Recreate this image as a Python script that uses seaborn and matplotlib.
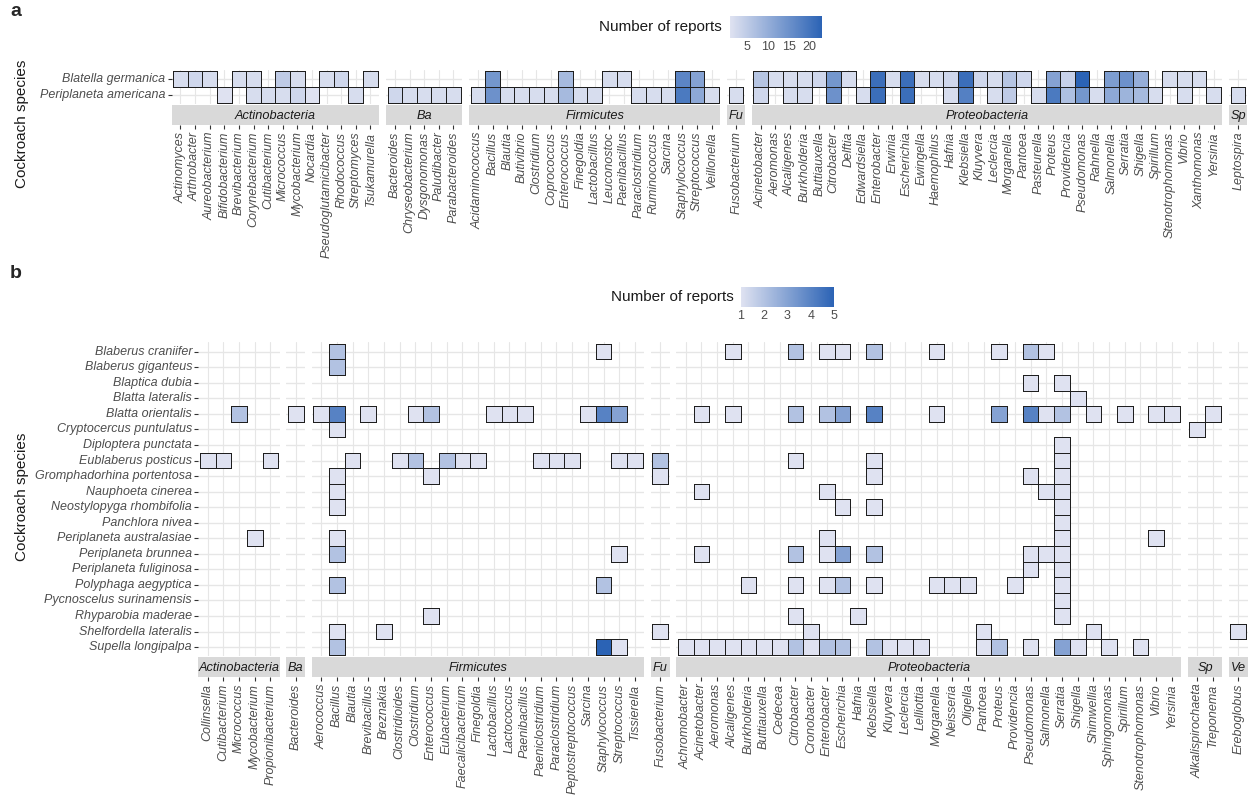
import numpy as np
import pandas as pd
import matplotlib
matplotlib.use("Agg")
import matplotlib.pyplot as plt
from matplotlib.colors import LinearSegmentedColormap, Normalize
from matplotlib.cm import ScalarMappable
import seaborn as sns

# ---------------- panel a : genus lists per phylum ----------------
a_species = ["Blatella germanica", "Periplaneta americana"]
a_actinobacteria = ["Actinomyces", "Arthrobacter", "Aureobacterium", "Bifidobacterium", "Brevibacterium",
                    "Corynebacterium", "Cutibacterium", "Micrococcus", "Mycobacterium", "Nocardia",
                    "Pseudoglutamicibacter", "Rhodococcus", "Streptomyces", "Tsukamurella"]
a_bacteroidetes = ["Bacteroides", "Chryseobacterium", "Dysgonomonas", "Paludibacter", "Parabacteroides"]
a_firmicutes = ["Acidaminococcus", "Bacillus", "Blautia", "Butivibrio", "Clostridium", "Coprococcus",
                "Enterococcus", "Finegoldia", "Lactobacillus", "Leuconostoc", "Paenibacillus",
                "Paraclostridium", "Ruminococcus", "Sarcina", "Staphylococcus", "Streptococcus", "Veillonella"]
a_fusobacteria = ["Fusobacterium"]
a_proteobacteria = ["Acinetobacter", "Aeromonas", "Alcaligenes", "Burkholderia", "Buttiauxella", "Citrobacter",
                    "Delftia", "Edwardsiella", "Enterobacter", "Erwinia", "Escherichia", "Ewingella",
                    "Haemophilus", "Hafnia", "Klebsiella", "Kluyvera", "Leclercia", "Morganella", "Pantoea",
                    "Pasteurella", "Proteus", "Providencia", "Pseudomonas", "Rahnella", "Salmonella",
                    "Serratia", "Shigella", "Spirillum", "Stenotrophomonas", "Vibrio", "Xanthomonas", "Yersinia"]
a_spirochaetes = ["Leptospira"]

# number of reports (panel a)
a_germanica = {"Actinomyces": 2, "Arthrobacter": 3, "Aureobacterium": 2, "Brevibacterium": 2,
               "Corynebacterium": 2, "Micrococcus": 5, "Mycobacterium": 2, "Pseudoglutamicibacter": 2,
               "Rhodococcus": 3, "Tsukamurella": 2,
               "Bacillus": 14, "Enterococcus": 8, "Leuconostoc": 2, "Paenibacillus": 2,
               "Staphylococcus": 17, "Streptococcus": 12,
               "Acinetobacter": 6, "Aeromonas": 2, "Alcaligenes": 2, "Burkholderia": 2, "Buttiauxella": 3,
               "Citrobacter": 14, "Delftia": 2, "Enterobacter": 21, "Erwinia": 2, "Escherichia": 21,
               "Ewingella": 2, "Haemophilus": 2, "Hafnia": 3, "Klebsiella": 21, "Kluyvera": 3,
               "Leclercia": 2, "Morganella": 6, "Pantoea": 3, "Proteus": 12, "Providencia": 4,
               "Pseudomonas": 23, "Salmonella": 13, "Serratia": 15, "Shigella": 10,
               "Stenotrophomonas": 2, "Vibrio": 2, "Xanthomonas": 2}
a_americana = {"Bifidobacterium": 1, "Corynebacterium": 2, "Cutibacterium": 2, "Micrococcus": 2,
               "Mycobacterium": 3, "Nocardia": 1, "Streptomyces": 2,
               "Bacteroides": 3, "Chryseobacterium": 2, "Dysgonomonas": 2, "Paludibacter": 2,
               "Parabacteroides": 2,
               "Acidaminococcus": 2, "Bacillus": 15, "Blautia": 2, "Butivibrio": 2, "Clostridium": 2,
               "Coprococcus": 2, "Enterococcus": 8, "Finegoldia": 2, "Lactobacillus": 2,
               "Paraclostridium": 2, "Ruminococcus": 2, "Sarcina": 2, "Staphylococcus": 19,
               "Streptococcus": 11, "Veillonella": 2,
               "Fusobacterium": 2,
               "Acinetobacter": 3, "Alcaligenes": 2, "Burkholderia": 2, "Citrobacter": 15,
               "Edwardsiella": 2, "Enterobacter": 21, "Escherichia": 21, "Hafnia": 2, "Klebsiella": 18,
               "Leclercia": 2, "Morganella": 5, "Pasteurella": 2, "Proteus": 19, "Providencia": 7,
               "Pseudomonas": 14, "Rahnella": 2, "Salmonella": 11, "Serratia": 9, "Shigella": 8,
               "Spirillum": 2, "Vibrio": 2, "Yersinia": 2,
               "Leptospira": 2}

# ---------------- panel b ----------------
b_species = ["Blaberus craniifer", "Blaberus giganteus", "Blaptica dubia", "Blatta lateralis",
             "Blatta orientalis", "Cryptocercus puntulatus", "Diploptera punctata", "Eublaberus posticus",
             "Gromphadorhina portentosa", "Nauphoeta cinerea", "Neostylopyga rhombifolia", "Panchlora nivea",
             "Periplaneta australasiae", "Periplaneta brunnea", "Periplaneta fuliginosa",
             "Polyphaga aegyptica", "Pycnoscelus surinamensis", "Rhyparobia maderae",
             "Shelfordella lateralis", "Supella longipalpa"]
b_actinobacteria = ["Collinsella", "Cutibacterium", "Micrococcus", "Mycobacterium", "Propionibacterium"]
b_bacteroidetes = ["Bacteroides"]
b_firmicutes = ["Aerococcus", "Bacillus", "Blautia", "Brevibacillus", "Breznakia", "Clostridioides",
                "Clostridium", "Enterococcus", "Eubacterium", "Faecalicibacterium", "Finegoldia",
                "Lactobacillus", "Lactococcus", "Paenibacillus", "Paeniclostridium", "Paraclostridium",
                "Peptostreptococcus", "Sarcina", "Staphylococcus", "Streptococcus", "Tissierella"]
b_fusobacteria = ["Fusobacterium"]
b_proteobacteria = ["Achromobacter", "Acinetobacter", "Aeromonas", "Alcaligenes", "Burkholderia",
                    "Buttiauxella", "Cedecea", "Citrobacter", "Cronobacter", "Enterobacter", "Escherichia",
                    "Hafnia", "Klebsiella", "Kluyvera", "Leclercia", "Lelliottia", "Morganella", "Neisseria",
                    "Oligella", "Pantoea", "Proteus", "Providencia", "Pseudomonas", "Salmonella", "Serratia",
                    "Shigella", "Shimwellia", "Sphingomonas", "Spirillum", "Stenotrophomonas", "Vibrio",
                    "Yersinia"]
b_spirochaetes = ["Alkalispirochaeta", "Treponema"]
b_verrucomicrobia = ["Ereboglobus"]

# number of reports per cockroach species (panel b)
b_craniifer = {"Bacillus": 2, "Staphylococcus": 1, "Alcaligenes": 1, "Citrobacter": 2, "Enterobacter": 1,
               "Escherichia": 1, "Klebsiella": 2, "Morganella": 1, "Proteus": 1, "Pseudomonas": 2,
               "Salmonella": 1}
b_giganteus = {"Bacillus": 2}
b_dubia = {"Pseudomonas": 1, "Serratia": 1}
b_lateralis = {"Shigella": 1}
b_orientalis = {"Micrococcus": 2, "Bacteroides": 1, "Aerococcus": 1, "Bacillus": 4, "Brevibacillus": 1,
                "Clostridium": 1, "Enterococcus": 2, "Lactobacillus": 1, "Lactococcus": 1, "Paenibacillus": 1,
                "Sarcina": 1, "Staphylococcus": 4, "Streptococcus": 3, "Acinetobacter": 1, "Alcaligenes": 1,
                "Citrobacter": 2, "Enterobacter": 2, "Escherichia": 3, "Klebsiella": 4, "Morganella": 1,
                "Proteus": 3, "Pseudomonas": 4, "Salmonella": 1, "Serratia": 2, "Shimwellia": 1,
                "Spirillum": 1, "Vibrio": 1, "Yersinia": 1, "Treponema": 1}
b_cryptocercus = {"Bacillus": 1, "Alkalispirochaeta": 1}
b_diploptera = {"Serratia": 1}
b_eublaberus = {"Collinsella": 1, "Cutibacterium": 1, "Propionibacterium": 1, "Blautia": 1,
                "Clostridioides": 1, "Clostridium": 2, "Eubacterium": 2, "Faecalicibacterium": 1,
                "Finegoldia": 1, "Paeniclostridium": 1, "Paraclostridium": 1, "Peptostreptococcus": 1,
                "Streptococcus": 1, "Tissierella": 1, "Fusobacterium": 2, "Citrobacter": 1, "Klebsiella": 1,
                "Serratia": 1}
b_gromphadorhina = {"Bacillus": 1, "Enterococcus": 1, "Fusobacterium": 1, "Klebsiella": 1,
                    "Pseudomonas": 1, "Serratia": 1}
b_nauphoeta = {"Bacillus": 1, "Acinetobacter": 1, "Enterobacter": 1, "Salmonella": 1, "Serratia": 1}
b_neostylopyga = {"Bacillus": 1, "Escherichia": 1, "Klebsiella": 1, "Serratia": 1}
b_panchlora = {"Serratia": 1}
b_australasiae = {"Mycobacterium": 1, "Bacillus": 1, "Enterobacter": 1, "Serratia": 1, "Vibrio": 1}
b_brunnea = {"Bacillus": 2, "Streptococcus": 1, "Acinetobacter": 1, "Citrobacter": 2, "Enterobacter": 1,
             "Escherichia": 3, "Klebsiella": 2, "Pseudomonas": 1, "Salmonella": 1, "Serratia": 1}
b_fuliginosa = {"Pseudomonas": 1, "Serratia": 1}
b_polyphaga = {"Bacillus": 2, "Staphylococcus": 2, "Burkholderia": 1, "Citrobacter": 1, "Enterobacter": 1,
               "Escherichia": 2, "Klebsiella": 1, "Morganella": 1, "Neisseria": 1, "Oligella": 1,
               "Providencia": 1, "Serratia": 1}
b_pycnoscelus = {"Serratia": 1}
b_rhyparobia = {"Enterococcus": 1, "Citrobacter": 1, "Hafnia": 1, "Serratia": 1}
b_shelfordella = {"Bacillus": 1, "Breznakia": 1, "Fusobacterium": 1, "Cronobacter": 1, "Pantoea": 1,
                  "Shimwellia": 1, "Ereboglobus": 1}
b_supella = {"Bacillus": 2, "Staphylococcus": 5, "Streptococcus": 1, "Achromobacter": 1, "Acinetobacter": 1,
             "Aeromonas": 1, "Alcaligenes": 1, "Burkholderia": 1, "Buttiauxella": 1, "Cedecea": 1,
             "Citrobacter": 2, "Cronobacter": 1, "Enterobacter": 2, "Escherichia": 2, "Klebsiella": 2,
             "Kluyvera": 1, "Leclercia": 1, "Lelliottia": 1, "Pantoea": 1, "Proteus": 2, "Pseudomonas": 1,
             "Serratia": 3, "Shigella": 1, "Sphingomonas": 1, "Stenotrophomonas": 1}

a_rows = [a_germanica, a_americana]
b_rows = [b_craniifer, b_giganteus, b_dubia, b_lateralis, b_orientalis, b_cryptocercus, b_diploptera,
          b_eublaberus, b_gromphadorhina, b_nauphoeta, b_neostylopyga, b_panchlora, b_australasiae,
          b_brunnea, b_fuliginosa, b_polyphaga, b_pycnoscelus, b_rhyparobia, b_shelfordella, b_supella]

a_facets = [("Actinobacteria", a_actinobacteria), ("Ba", a_bacteroidetes), ("Firmicutes", a_firmicutes),
            ("Fu", a_fusobacteria), ("Proteobacteria", a_proteobacteria), ("Sp", a_spirochaetes)]
b_facets = [("Actinobacteria", b_actinobacteria), ("Ba", b_bacteroidetes), ("Firmicutes", b_firmicutes),
            ("Fu", b_fusobacteria), ("Proteobacteria", b_proteobacteria), ("Sp", b_spirochaetes),
            ("Ve", b_verrucomicrobia)]

# ---------------- drawing ----------------
sns.set_theme(style="white")
plt.rcParams["font.family"] = ["Liberation Sans", "DejaVu Sans"]

cmap = LinearSegmentedColormap.from_list("reports", ["#DFE2F1", "#2B63B5"])
grid_col = "#E6E6E6"
lab_col = "#4D4D4D"

W, H = 1258, 807
fig = plt.figure(figsize=(W / 100, H / 100), dpi=100)


def px_axes(x0, y0, x1, y1):
    return fig.add_axes([x0 / W, 1 - y1 / H, (x1 - x0) / W, (y1 - y0) / H])


def draw_panel(facets, species, rows, x0, pitch, gap, ytop, ybot, vmin, vmax):
    nrow = len(species)
    x = x0
    for k, (strip, genera) in enumerate(facets):
        n = len(genera)
        w = (n + 0.2) * pitch
        df = pd.DataFrame([[r.get(g, np.nan) for g in genera] for r in rows],
                          index=species, columns=genera, dtype=float)
        ax = px_axes(x, ytop, x + w, ybot)
        for i in range(n):
            ax.axvline(i + 0.5, color=grid_col, lw=0.8, zorder=0)
        for j in range(nrow):
            ax.axhline(j + 0.5, color=grid_col, lw=1.0, zorder=0)
        sns.heatmap(df, ax=ax, cmap=cmap, vmin=vmin, vmax=vmax, cbar=False, mask=df.isna())
        # outline only the tiles that carry a value
        mesh = ax.collections[0]
        missing = df.isna().values.ravel()
        ec = np.tile([0.12, 0.12, 0.12, 1.0], (missing.size, 1))
        ec[missing, 3] = 0.0
        mesh.set_edgecolor(ec)
        mesh.set_linewidth(0.7)
        ax.set_xlim(-0.1, n + 0.1)
        ax.set_ylim(nrow + 0.1, -0.1)
        ax.set_xticks([])
        ax.set_xlabel("")
        ax.set_ylabel("")
        if k == 0:
            ax.set_yticks(np.arange(nrow) + 0.5)
            ax.set_yticklabels(species, rotation=0, fontstyle="italic", fontsize=9, color=lab_col)
            ax.tick_params(axis="y", left=True, length=3, width=0.8, color="#333333", pad=1.5)
        else:
            ax.set_yticks([])
        for s in ax.spines.values():
            s.set_visible(False)

        # facet strip with genus labels underneath
        sax = px_axes(x, ybot + 1, x + w, ybot + 21)
        sax.set_facecolor("#D9D9D9")
        sax.set_xlim(-0.1, n + 0.1)
        sax.set_ylim(0, 1)
        sax.text(n / 2, 0.48, strip, ha="center", va="center", fontstyle="italic",
                 fontsize=9.2, color="#1A1A1A", clip_on=True)
        sax.set_yticks([])
        sax.set_xticks(np.arange(n) + 0.5)
        sax.set_xticklabels(genera, rotation=90, fontstyle="italic", fontsize=9, color=lab_col)
        sax.tick_params(axis="x", bottom=True, length=3, width=0.8, color="#333333", pad=1.5)
        for s in sax.spines.values():
            s.set_visible(False)
        x += w + gap


draw_panel(a_facets, a_species, a_rows, 171.7, 14.61, 7.0, 69.7, 104.3, 1, 23)
draw_panel(b_facets, b_species, b_rows, 198.3, 15.68, 6.6, 342.4, 656.4, 1, 5)


def legend(x0, y0, x1, y1, vmin, vmax, ticks, title_x):
    cax = px_axes(x0, y0, x1, y1)
    cb = fig.colorbar(ScalarMappable(norm=Normalize(vmin, vmax), cmap=cmap), cax=cax,
                      orientation="horizontal", ticks=ticks)
    cb.outline.set_visible(False)
    cax.tick_params(length=4, width=0.8, color="white", direction="in", labelsize=9,
                    labelcolor=lab_col, pad=2.5)
    fig.text(title_x / W, 1 - (y0 + y1) / 2 / H, "Number of reports", ha="right", va="center",
             fontsize=11, color="#1A1A1A")


legend(730, 16, 822, 38, 1, 23, [5, 10, 15, 20], 722)
legend(741, 287, 834, 307, 1, 5, [1, 2, 3, 4, 5], 734)

fig.text(22 / W, 1 - 124 / H, "Cockroach species", rotation=90, ha="center", va="center",
         fontsize=11, color="#1A1A1A")
fig.text(22 / W, 1 - 497 / H, "Cockroach species", rotation=90, ha="center", va="center",
         fontsize=11, color="#1A1A1A")
fig.text(10 / W, 1 - 12 / H, "a", fontsize=14, fontweight="bold", va="center", ha="left")
fig.text(10 / W, 1 - 274 / H, "b", fontsize=14, fontweight="bold", va="center", ha="left")

fig.savefig("out.png", dpi=100, facecolor="white")
